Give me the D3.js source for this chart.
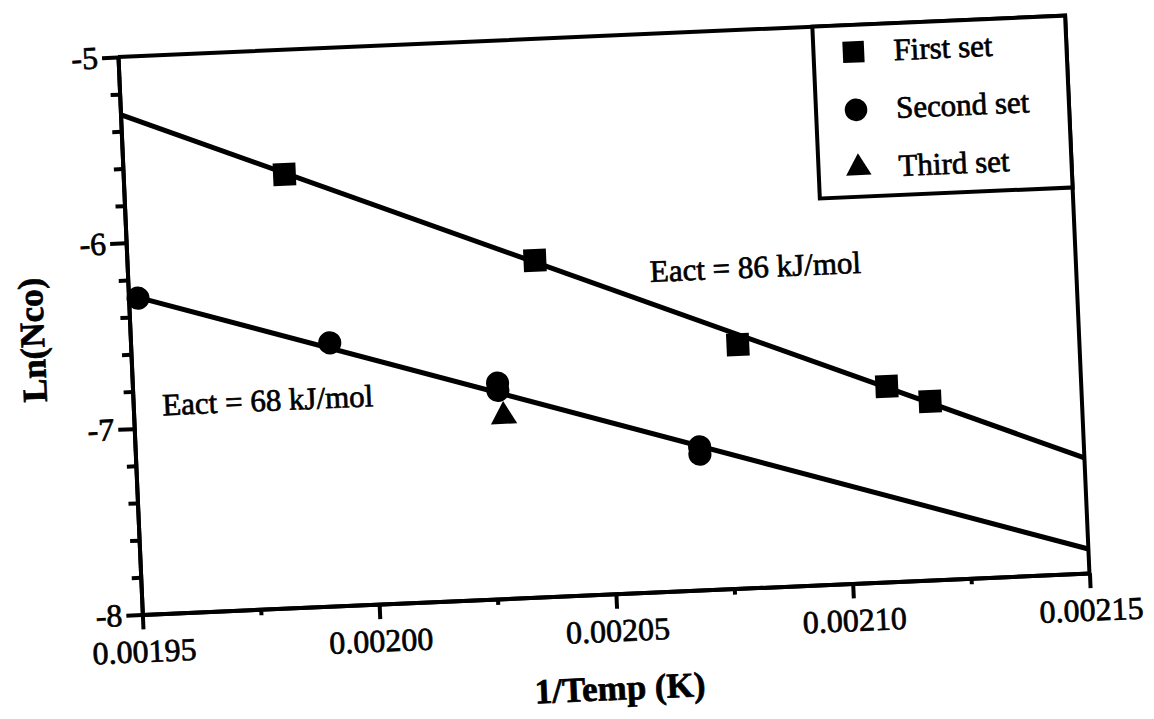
<!DOCTYPE html>
<html>
<head>
<meta charset="utf-8">
<script src="https://cdn.jsdelivr.net/npm/d3@7"></script>
<style>
  body { margin: 0; background: #fff; }
  text { font-family: "Liberation Serif", "Times New Roman", serif; fill: #000; }
</style>
</head>
<body>
<svg id="svg1"></svg>
<script>
// data
const firstX = [0.001984, 0.002036, 0.002078, 0.002109, 0.002118];
const firstY = [-5.67, -6.19, -6.69, -6.95, -7.04];
const secondX = [0.001952, 0.001992, 0.002027, 0.002027, 0.002069, 0.002069];
const secondY = [-6.30, -6.585, -6.84, -6.88, -7.23, -7.27];
const thirdX = [0.002028];
const thirdY = [-7.02];

// fitted lines (ends at the plot edges)
const fitX = [0.00195, 0.00215];
const fit1Y = [-5.31, -7.38];
const fit2Y = [-6.28, -7.87];

const xTicks = [0.00195, 0.00200, 0.00205, 0.00210, 0.00215];
const xTickLabels = ["0.00195", "0.00200", "0.00205", "0.00210", "0.00215"];
const xMinor = [0.001975, 0.002025, 0.002075, 0.002125];
const yTicks = [-5, -6, -7, -8];
const yTickLabels = ["-5", "-6", "-7", "-8"];
const yMinor = [-5.2, -5.4, -5.6, -5.8, -6.2, -6.4, -6.6, -6.8, -7.2, -7.4, -7.6, -7.8];

const legendNames = ["First set", "Second set", "Third set"];
const fitLabels = ["Eact = 86 kJ/mol", "Eact = 68 kJ/mol"];

// layout
const width = 948;
const height = 558;
const serif = '"Liberation Serif", "Times New Roman", serif';

const svg = d3.select('#svg1')
    .attr('width', 1154)
    .attr('height', 719)
    .append('g')
    .attr('transform', 'translate(118,57) rotate(-2.5)');   // the scan is tilted

const x = d3.scaleLinear().domain([0.00195, 0.00215]).range([0, width]);
const y = d3.scaleLinear().domain([-8, -5]).range([height, 0]);

// scanned print looks heavy, so give the text a thin outline
function inked(sel, size) {
  sel.style('font-family', serif)
      .style('font-size', size + 'px')
      .attr('fill', '#000')
      .attr('stroke', '#000')
      .attr('stroke-width', 0.7);
}

function styleAxis(g) {
  g.attr('font-family', null);
  g.selectAll('path, line').attr('stroke', '#000').attr('stroke-width', 4);
  g.selectAll('text').call(inked, 32);
}

// X axis
svg.append('g')
    .attr('transform', 'translate(0,' + height + ')')
    .call(d3.axisBottom(x).tickValues(xTicks).tickSize(15).tickSizeOuter(0).tickPadding(10)
        .tickFormat((d, i) => xTickLabels[i]))
    .call(styleAxis);
svg.append('g')
    .attr('transform', 'translate(0,' + height + ')')
    .call(d3.axisBottom(x).tickValues(xMinor).tickSize(6).tickSizeOuter(0).tickFormat(''))
    .call(styleAxis);

// Y axis
svg.append('g')
    .call(d3.axisLeft(y).tickValues(yTicks).tickSize(16).tickSizeOuter(0).tickPadding(4)
        .tickFormat((d, i) => yTickLabels[i]))
    .call(styleAxis);
svg.append('g')
    .call(d3.axisLeft(y).tickValues(yMinor).tickSize(9).tickSizeOuter(0).tickFormat(''))
    .call(styleAxis);

// top and right frame
svg.append('path')
    .attr('d', 'M0,' + y(-5) + 'H' + x(0.00215) + 'V' + y(-8))
    .attr('fill', 'none')
    .attr('stroke', '#000')
    .attr('stroke-width', 4);

// fit lines
const line = d3.line().x(d => x(d[0])).y(d => y(d[1]));
[fit1Y, fit2Y].forEach(function(fy) {
  svg.append('path')
      .datum(fitX.map((v, i) => [v, fy[i]]))
      .attr('d', line)
      .attr('fill', 'none')
      .attr('stroke', '#000')
      .attr('stroke-width', 5);
});

// markers
const square = d3.symbol().type(d3.symbolSquare).size(520);
const circle = d3.symbol().type(d3.symbolCircle).size(420);
const triangle = d3.symbol().type(d3.symbolTriangle).size(300);

svg.selectAll('.first')
    .data(firstX.map((v, i) => [v, firstY[i]]))
    .enter().append('path')
    .attr('d', square)
    .attr('transform', d => 'translate(' + x(d[0]) + ',' + y(d[1]) + ')');

svg.selectAll('.second')
    .data(secondX.map((v, i) => [v, secondY[i]]))
    .enter().append('path')
    .attr('d', circle)
    .attr('transform', d => 'translate(' + x(d[0]) + ',' + y(d[1]) + ')');

svg.selectAll('.third')
    .data(thirdX.map((v, i) => [v, thirdY[i]]))
    .enter().append('path')
    .attr('d', triangle)
    .attr('transform', d => 'translate(' + x(d[0]) + ',' + y(d[1]) + ')');

// fit annotations
svg.append('text').attr('x', 522).attr('y', 248).text(fitLabels[0]).call(inked, 31);
svg.append('text').attr('x', 29).attr('y', 360).text(fitLabels[1]).call(inked, 31);

// axis titles
svg.append('text')
    .attr('x', width / 2).attr('y', height + 106)
    .attr('text-anchor', 'middle')
    .text('1/Temp (K)')
    .call(inked, 35)
    .style('font-weight', 'bold');
svg.append('text')
    .attr('transform', 'translate(-86,' + (height / 2) + ') rotate(-90)')
    .attr('text-anchor', 'middle')
    .text('Ln(Nco)')
    .call(inked, 35)
    .style('font-weight', 'bold');

// legend
const legend = svg.append('g').attr('transform', 'translate(' + 695 + ',0)');
legend.append('rect')
    .attr('width', width - 695).attr('height', 172)
    .attr('fill', '#fff').attr('stroke', '#000').attr('stroke-width', 4);
const shapes = [d3.symbol().type(d3.symbolSquare).size(460),
                d3.symbol().type(d3.symbolCircle).size(400),
                d3.symbol().type(d3.symbolTriangle).size(280)];
legendNames.forEach(function(name, i) {
  const cy = 27 + i * 58;
  legend.append('path').attr('d', shapes[i]).attr('transform', 'translate(40,' + cy + ')');
  legend.append('text').attr('x', 80).attr('y', cy + 10).text(name).call(inked, 31);
});
</script>
</body>
</html>
